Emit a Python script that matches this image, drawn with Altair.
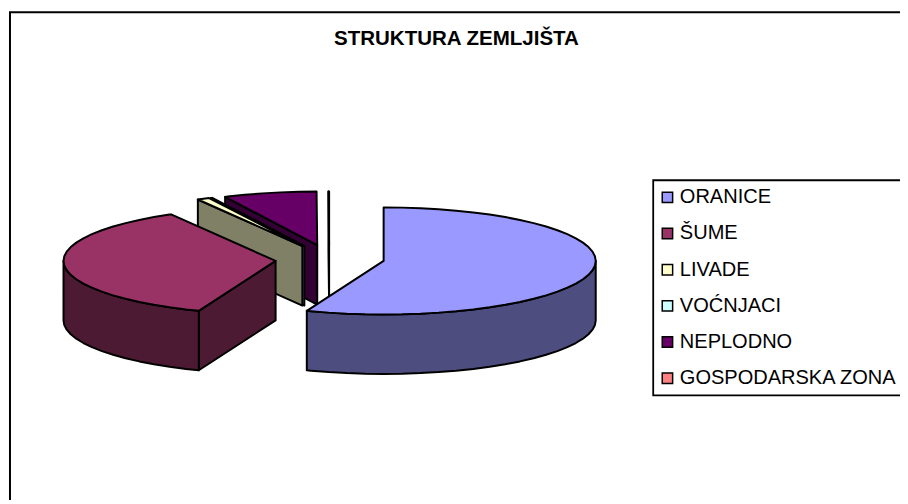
import math
import altair as alt

# chart values (share of land, %)
categories = ["ORANICE", "ŠUME", "LIVADE", "VOĆNJACI", "NEPLODNO", "GOSPODARSKA ZONA"]
values = [55.9, 35.9, 0.95, 0.1, 7.1, 0.05]
top_colors = ["#9999FF", "#993366", "#FFFFCC", "#CCFFFF", "#660066", "#FF8080"]
side_colors = ["#4D4D80", "#4D1A33", "#808066", "#668080", "#330033", "#804040"]

# pie layout: exploded slice centres, ellipse radii, depth
centers = [(387, 263), (278, 263), (305, 248), (307, 248), (320, 247), (332, 247)]
RX, RY, DEPTH = 214, 54, 60
STEP = 5.0
SHIFT_Y = 2


def rim(c, deg, dz=0):
    a = math.radians(deg)
    return [c[0] + RX * math.sin(a), c[1] - RY * math.cos(a) + dz]


def arc_angles(a, b):
    out = [a]
    t = (math.floor(a / STEP) + 1) * STEP
    while t < b:
        out.append(t)
        t += STEP
    out.append(b)
    return out


def feature(key, ring):
    ring = ring + [ring[0]]
    return {"type": "Feature", "properties": {"key": key},
            "geometry": {"type": "Polygon", "coordinates": [ring]}}


total = sum(values)
spans = []
acc = 0.0
for v in values:
    spans.append((acc, acc + v / total * 360))
    acc += v / total * 360

features = []
for i in reversed(range(len(categories))):
    name, c = categories[i], centers[i]
    start, end = spans[i]
    side = name + " (side)"
    bottom = [c[0], c[1] + DEPTH]
    if start > 180:
        features.append(feature(side, [list(c), rim(c, start), rim(c, start, DEPTH), bottom]))
    if end > 90 and start < 270:
        lo, hi = max(start, 90), min(end, 270)
        angs = arc_angles(lo, hi)
        features.append(feature(side, [rim(c, t) for t in angs] +
                                [rim(c, t, DEPTH) for t in reversed(angs)]))
    features.append(feature(name, [list(c)] + [rim(c, t) for t in arc_angles(start, end)]))

domain = categories + [n + " (side)" for n in categories]
colors = top_colors + side_colors

pie = alt.Chart(alt.InlineData(values={"type": "FeatureCollection", "features": features},
                               format=alt.DataFormat(property="features", type="json"))
                ).mark_geoshape(stroke="black", strokeWidth=2, strokeJoin="round").encode(
    fill=alt.Fill("properties.key:N",
                  scale=alt.Scale(domain=domain, range=colors),
                  legend=alt.Legend(values=categories, title=None, orient="none",
                                    legendX=651, legendY=173.6 - SHIFT_Y, padding=6.75,
                                    strokeColor="black", fillColor="white",
                                    symbolType="square", symbolSize=110, symbolOffset=-2.5,
                                    symbolStrokeColor="black", symbolStrokeWidth=1.5,
                                    labelFont="Liberation Sans", labelFontSize=20.2,
                                    labelColor="black", labelOffset=2.4, labelLimit=300,
                                    rowPadding=15.5, clipHeight=21))
).project(type="identity", scale=1, translate=[-8, -8 - SHIFT_Y])

frame = alt.Chart(alt.Data(values=[{"f": 1}])).mark_rect(
    fill="white", stroke="black", strokeWidth=2
).encode(x=alt.value(2), x2=alt.value(1200), y=alt.value(4 - SHIFT_Y), y2=alt.value(1200))

chart = alt.layer(frame, pie).properties(
    width=900, height=492, padding=0,
    autosize=alt.AutoSizeParams(type="none"),
    title=alt.TitleParams("STRUKTURA ZEMLJIŠTA", font="Liberation Sans", fontSize=20.7,
                          fontWeight="bold", color="black", anchor="middle",
                          orient="top", offset=0, dx=2.5, dy=40),
    background="white",
).configure_view(stroke=None).configure_legend(strokeWidth=1.8)

chart.save("out.html", embed_options={"renderer": "svg", "actions": False})
